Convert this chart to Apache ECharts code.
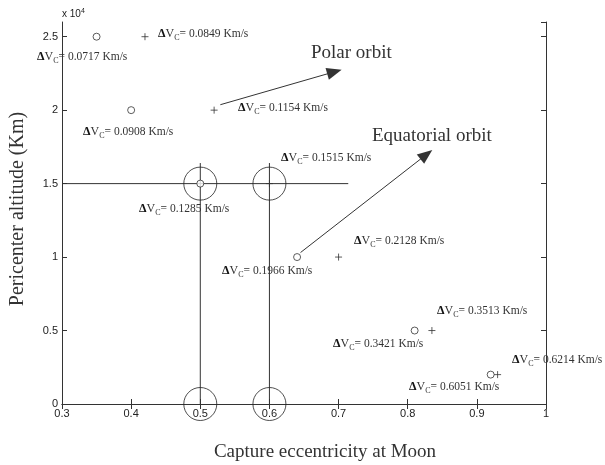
<!DOCTYPE html>
<html><head><meta charset="utf-8">
<script src="https://cdn.jsdelivr.net/npm/echarts@6/dist/echarts.min.js"></script>
<style>html,body{margin:0;padding:0;background:#fff}#c{width:605px;height:465px}</style>
</head><body><div id="c"></div>
<script>
// ---- data ----
const eccCircle = [0.35, 0.40, 0.50, 0.64, 0.81, 0.92];
const altCircle = [25000, 20000, 15000, 10000, 5000, 2000];
const eccPlus = [0.42, 0.52, 0.60, 0.70, 0.835, 0.93];
const altPlus = [25000, 20000, 15000, 10000, 5000, 2000];
const dvCircle = ['0.0717', '0.0908', '0.1285', '0.1966', '0.3421', '0.6051'];
const dvPlus = ['0.0849', '0.1154', '0.1515', '0.2128', '0.3513', '0.6214'];
const highlightEcc = [0.5, 0.6, 0.5, 0.6];
const highlightAlt = [15000, 15000, 0, 0];
const guideH = [[0.3, 15000], [0.714, 15000]];
const guideV1 = [[0.5, 0], [0.5, 16400]];
const guideV2 = [[0.6, 0], [0.6, 16400]];
const arrowPolar = [[0.529, 20370], [0.694, 22610]];
const arrowEquatorial = [[0.645, 10310], [0.827, 16980]];
const xTickLabels = ['0.3', '0.4', '0.5', '0.6', '0.7', '0.8', '0.9', '1'];
const yTickLabels = ['0', '0.5', '1', '1.5', '2', '2.5'];
const notes = ['Polar orbit', 'Equatorial orbit'];
const xTitle = 'Capture eccentricity at Moon';
const yTitle = 'Pericenter altitude (Km)';

// ---- layout (annotation placement, pixels) ----
const dvCirclePos = [[37, 59], [83, 134], [139, 211], [222, 273], [333, 346], [409, 389]];
const dvPlusPos = [[158, 36], [238, 110], [281, 160], [354, 243], [437, 313], [512, 362]];
const notePos = [[311, 55], [372, 138]];

const C = '#333';
const serif = '"Liberation Serif","Times New Roman",serif';
const sans = '"Liberation Sans",Arial,sans-serif';

const rich = {
  d: {fontFamily: serif, fontWeight: 'bold', fontSize: 12, fill: '#111'},
  v: {fontFamily: serif, fontSize: 12, fill: '#333'},
  c: {fontFamily: serif, fontSize: 8, fill: '#333', padding: [7, 0, 0, 0]},
  t: {fontFamily: serif, fontSize: 11.5, fill: '#333'}
};
function dvText(v) { return '{d|Δ}{v|V}{c|C}{t|= ' + v + ' Km/s}'; }

const graphics = [];
function addDv(vals, pos) {
  vals.forEach((v, i) => {
    graphics.push({type: 'text', left: pos[i][0], top: pos[i][1] - 8, silent: true,
      style: {text: dvText(v), rich: rich, fill: '#333', verticalAlign: 'top'}});
  });
}
addDv(dvCircle, dvCirclePos);
addDv(dvPlus, dvPlusPos);
notes.forEach((n, i) => {
  graphics.push({type: 'text', left: notePos[i][0], top: notePos[i][1] - 11, silent: true,
    style: {text: n, fontFamily: serif, fontSize: 19, fill: '#333'}});
});
graphics.push({type: 'text', left: 62, top: 8, silent: true,
  style: {text: 'x 10{s|4}', fontFamily: sans, fontSize: 10, fill: '#222',
    rich: {s: {fontFamily: sans, fontSize: 7, fill: '#222', padding: [0, 0, 6, 0]}}}});
graphics.push({type: 'text', x: 325, y: 452, silent: true,
  style: {text: xTitle, fontFamily: serif, fontSize: 19, fill: '#333', align: 'center', verticalAlign: 'middle'}});
graphics.push({type: 'text', x: 18, y: 209, rotation: Math.PI / 2, silent: true,
  style: {text: yTitle, fontFamily: serif, fontSize: 20, fill: '#333', align: 'center', verticalAlign: 'middle'}});

const chart = echarts.init(document.getElementById('c'));
const axisLineStyle = {color: C, width: 1};
chart.setOption({
  animation: false,
  grid: {left: 62, right: 59, top: 22, bottom: 61},
  xAxis: [
    {type: 'value', min: 0.3, max: 1, interval: 0.1, position: 'bottom',
     axisLine: {lineStyle: axisLineStyle}, axisTick: {inside: true, length: 5, lineStyle: axisLineStyle},
     axisLabel: {color: '#222', fontFamily: sans, fontSize: 11, margin: 4,
       formatter: v => xTickLabels[Math.round((v - 0.3) * 10)]},
     splitLine: {show: false}},
    {type: 'value', min: 0.3, max: 1, interval: 0.1, position: 'top',
     axisLine: {lineStyle: axisLineStyle}, axisTick: {inside: true, length: 5, lineStyle: axisLineStyle},
     axisLabel: {show: false}, splitLine: {show: false}}
  ],
  yAxis: [
    {type: 'value', min: 0, max: 26000, interval: 5000, position: 'left',
     axisLine: {show: true, lineStyle: axisLineStyle}, axisTick: {show: true, inside: true, length: 5, lineStyle: axisLineStyle},
     axisLabel: {color: '#222', fontFamily: sans, fontSize: 11, margin: 4, showMaxLabel: false,
       formatter: v => yTickLabels[Math.round(v / 5000)] || ''},
     splitLine: {show: false}},
    {type: 'value', min: 0, max: 26000, interval: 5000, position: 'right',
     axisLine: {show: true, lineStyle: axisLineStyle}, axisTick: {show: true, inside: true, length: 5, lineStyle: axisLineStyle},
     axisLabel: {show: false}, splitLine: {show: false}}
  ],
  series: [
    {type: 'line', data: guideH, symbol: 'none', lineStyle: {color: C, width: 1}, z: 1},
    {type: 'line', data: guideV1, symbol: 'none', lineStyle: {color: C, width: 1}, z: 1},
    {type: 'line', data: guideV2, symbol: 'none', lineStyle: {color: C, width: 1}, z: 1},
    {type: 'scatter', data: highlightEcc.map((x, i) => [x, highlightAlt[i]]), symbol: 'circle', symbolSize: 33,
     itemStyle: {color: 'none', borderColor: '#222', borderWidth: 1}, z: 2},
    {type: 'scatter', data: eccCircle.map((x, i) => [x, altCircle[i]]), symbol: 'circle', symbolSize: 7,
     itemStyle: {color: '#fff', borderColor: '#333', borderWidth: 1}, z: 3},
    {type: 'scatter', data: eccPlus.map((x, i) => [x, altPlus[i]]), symbol: 'path://M5,0L5,10M0,5L10,5', symbolSize: 7,
     itemStyle: {color: 'none', borderColor: '#333', borderWidth: 1}, z: 3},
    {type: 'line', data: [], symbol: 'none',
     markLine: {silent: true, symbol: ['none', 'triangle'], symbolSize: [12, 15],
       lineStyle: {color: '#333', width: 1, type: 'solid'}, itemStyle: {color: '#333'}, label: {show: false},
       emphasis: {disabled: true},
       data: [
         [{coord: arrowPolar[0]}, {coord: arrowPolar[1]}],
         [{coord: arrowEquatorial[0]}, {coord: arrowEquatorial[1]}]
       ]}}
  ],
  graphic: graphics
});
</script></body></html>
